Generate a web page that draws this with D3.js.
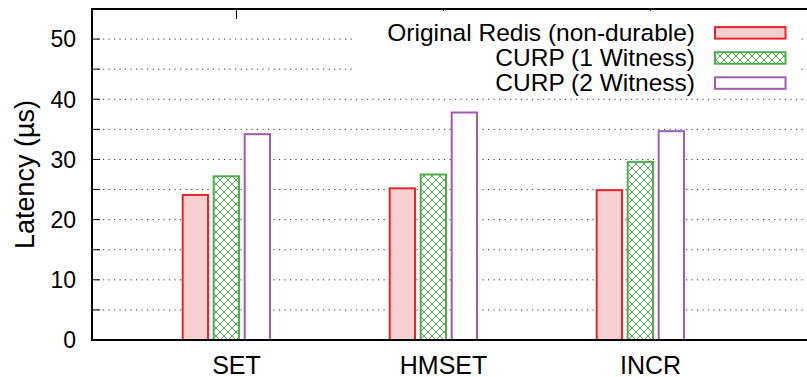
<!DOCTYPE html>
<html>
<head>
<meta charset="utf-8">
<script src="https://cdn.jsdelivr.net/npm/d3@7"></script>
<style>
  html, body { margin: 0; padding: 0; background: #fff; }
  svg { display: block; }
  text { font-family: "Liberation Sans", Arial, Helvetica, sans-serif; fill: #000; }
</style>
</head>
<body>
<svg id="chart" width="807" height="377"></svg>
<script>
const categories = ["SET", "HMSET", "INCR"];
const seriesNames = ["Original Redis (non-durable)", "CURP (1 Witness)", "CURP (2 Witness)"];
const redisValues = [24.1, 25.2, 24.9];
const curp1Values = [27.2, 27.5, 29.6];
const curp2Values = [34.2, 37.8, 34.7];
const yTickValues = [0, 10, 20, 30, 40, 50];
const yGridValues = [5, 10, 15, 20, 25, 30, 35, 40, 45, 50];

(function () {
const seriesValues = [redisValues, curp1Values, curp2Values];
const strokes = ["#e8262a", "#4daf4a", "#a05cb0"];
const fills = ["#f8d0d1", "url(#hatch)", "#ffffff"];

const svg = d3.select("#chart");
const pLeft = 92, pTop = 9, pBottom = 340, pRight = 815;

const y = d3.scaleLinear().domain([0, 55]).range([pBottom, pTop]);
const x = d3.scaleLinear().domain([0, categories.length - 1]).range([236.5, 650.5]);

// pattern
const defs = svg.append("defs");
const pat = defs.append("pattern").attr("id", "hatch").attr("patternUnits", "userSpaceOnUse")
  .attr("width", 8).attr("height", 8);
pat.append("rect").attr("width", 8).attr("height", 8).attr("fill", "#fff");
pat.append("path").attr("d", "M0,0 L8,8 M8,0 L0,8")
  .attr("stroke", "#4daf4a").attr("stroke-width", 1).attr("fill", "none");

// gridlines
svg.append("g").selectAll("line").data(yGridValues).join("line")
  .attr("x1", pLeft).attr("x2", pRight)
  .attr("y1", d => y(d)).attr("y2", d => y(d))
  .attr("stroke", "#333").attr("stroke-width", 1).attr("stroke-dasharray", "1.2,4.3");

// left ticks (major & minor)
svg.append("g").selectAll("line").data(yGridValues.concat([0])).join("line")
  .attr("x1", pLeft).attr("x2", pLeft + 8)
  .attr("y1", d => y(d)).attr("y2", d => y(d))
  .attr("stroke", "#000").attr("stroke-width", 1);

// top ticks
svg.append("g").selectAll("line").data(categories).join("line")
  .attr("x1", (d, i) => x(i)).attr("x2", (d, i) => x(i))
  .attr("y1", pTop).attr("y2", pTop + 10)
  .attr("stroke", "#000").attr("stroke-width", 1);

// bars
const slot = 31, barW = 25.3, offset0 = -53.8;
seriesValues.forEach((vals, j) => {
  svg.append("g").selectAll("rect").data(vals).join("rect")
    .attr("x", (d, i) => x(i) + offset0 + j * slot)
    .attr("y", d => y(d))
    .attr("width", barW)
    .attr("height", d => y(0) - y(d))
    .attr("fill", fills[j])
    .attr("stroke", strokes[j])
    .attr("stroke-width", 2);
});

// frame
svg.append("path")
  .attr("d", `M${pRight},${pTop} L${pLeft},${pTop} L${pLeft},${pBottom} L${pRight},${pBottom}`)
  .attr("fill", "none").attr("stroke", "#000").attr("stroke-width", 2);

// y tick labels
svg.append("g").selectAll("text").data(yTickValues).join("text")
  .attr("x", 76).attr("y", d => y(d) + 8.3)
  .attr("text-anchor", "end").attr("font-size", 23)
  .text(d => d);

// x labels
svg.append("g").selectAll("text").data(categories).join("text")
  .attr("x", (d, i) => x(i)).attr("y", 373.5)
  .attr("text-anchor", "middle").attr("font-size", 25)
  .text(d => d);

// y label
svg.append("text")
  .attr("transform", "translate(34,174.5) rotate(-90)")
  .attr("text-anchor", "middle").attr("font-size", 27)
  .text("Latency (µs)");

// legend
const leg = svg.append("g");
leg.append("rect").attr("x", 352).attr("y", 11).attr("width", 447).attr("height", 84).attr("fill", "#fff");
seriesNames.forEach((name, j) => {
  const cy = 32.8 + j * 25.1;
  leg.append("text").attr("x", 695).attr("y", cy + 8.3)
    .attr("text-anchor", "end").attr("font-size", 24.5).text(name);
  leg.append("rect").attr("x", 715).attr("y", cy - 5.7).attr("width", 70.5).attr("height", 11.5)
    .attr("fill", fills[j]).attr("stroke", strokes[j]).attr("stroke-width", 2);
});
})();
</script>
</body>
</html>
